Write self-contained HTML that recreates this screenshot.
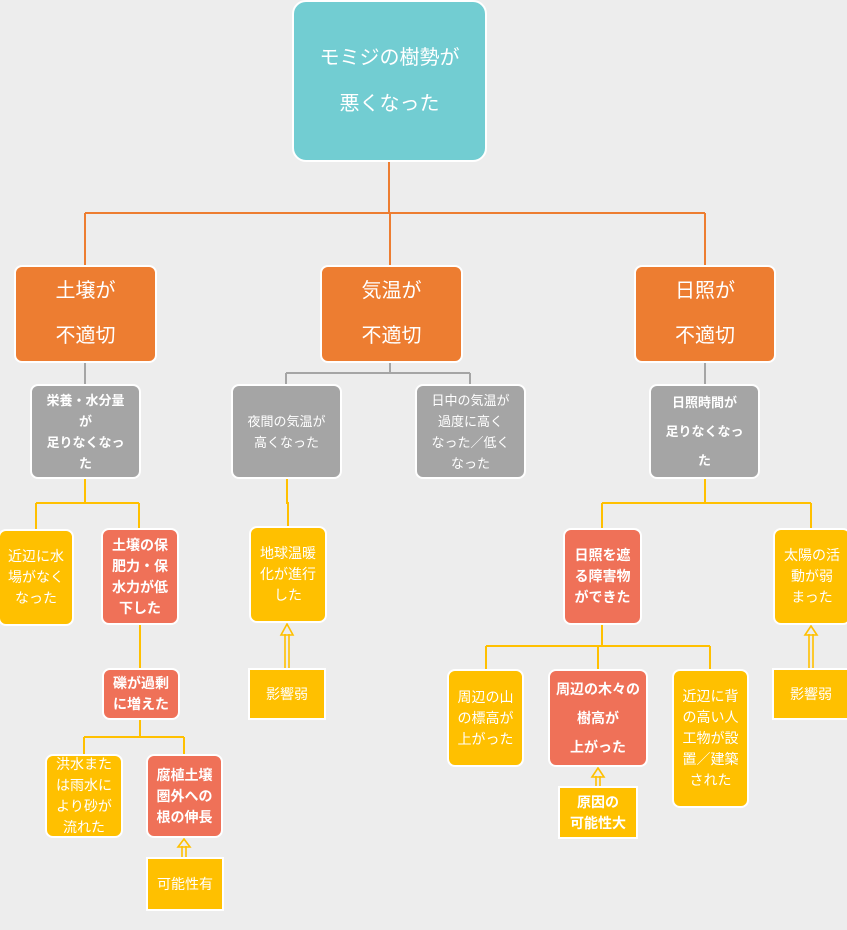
<!DOCTYPE html>
<html><head><meta charset="utf-8"><style>
body{margin:0;width:847px;height:930px;background:#ededed;position:relative;overflow:hidden;font-family:"Liberation Sans","Noto Sans CJK JP",sans-serif;}
.b{position:absolute;box-sizing:border-box;border:2px solid #fff;border-radius:8px;color:#fff;display:flex;align-items:center;justify-content:center;text-align:center;font-size:14px;line-height:21px;}
.t{background:#72cdd2;border-radius:14px;font-size:20px;line-height:46px;}
.o{background:#ed7d31;font-size:20px;line-height:45px;}
.g{background:#a5a5a5;font-size:13px;}
.y{background:#ffc000;}
.r{background:#ef7158;font-weight:bold;}
.s{border-radius:0;}
.bd{font-weight:bold;}
svg{position:absolute;left:0;top:0;}
</style></head><body>
<svg width="847" height="930" fill="none">
<g stroke="#ed7d31" stroke-width="2">
<path d="M389 161V213M85 213H705M85 213V265M390 213V265M705 213V265"/>
</g>
<g stroke="#a5a5a5" stroke-width="2">
<path d="M85 362V385M390 362V373M286 373H470M286 373V385M470 373V385M705 362V385"/>
</g>
<g stroke="#ffc000" stroke-width="2">
<path d="M85 478V503M36 503H139M36 503V529M139 503V529"/>
<path d="M287 478V503H288V527"/>
<path d="M705 478V503M602 503H811M602 503V529M811 503V529"/>
<path d="M140 625V669M140 719V737M84 737H184M84 737V754M184 737V754"/>
<path d="M602 624V646M486 646H710M486 646V669M598 646V669M710 646V669"/>
</g>
<g stroke="#ffc000" stroke-width="1.6">
<path d="M182 857V846M186 857V846M178 847L184 839L190 847Z"/>
<path d="M285 668V634M289 668V634M281 635L287 624L293 635Z"/>
<path d="M596 786V776M600 786V776M592 777L598 768L604 777Z"/>
<path d="M809 668V634M813 668V634M805 635L811 626L817 635Z"/>
</g>
</svg>
<div class="b t" style="left:292px;top:0;width:195px;height:162px">モミジの樹勢が<br>悪くなった</div>
<div class="b o" style="left:14px;top:265px;width:143px;height:98px">土壌が<br>不適切</div>
<div class="b o" style="left:320px;top:265px;width:143px;height:98px">気温が<br>不適切</div>
<div class="b o" style="left:634px;top:265px;width:142px;height:98px">日照が<br>不適切</div>
<div class="b g bd" style="left:30px;top:384px;width:111px;height:95px;line-height:21px">栄養・水分量<br>が<br>足りなくなっ<br>た</div>
<div class="b g" style="left:231px;top:384px;width:111px;height:95px">夜間の気温が<br>高くなった</div>
<div class="b g" style="left:415px;top:384px;width:111px;height:95px">日中の気温が<br>過度に高く<br>なった／低く<br>なった</div>
<div class="b g bd" style="left:649px;top:384px;width:111px;height:95px;line-height:29px">日照時間が<br>足りなくなっ<br>た</div>
<div class="b y" style="left:-2px;top:529px;width:76px;height:97px">近辺に水<br>場がなく<br>なった</div>
<div class="b r" style="left:101px;top:528px;width:78px;height:97px">土壌の保<br>肥力・保<br>水力が低<br>下した</div>
<div class="b y" style="left:249px;top:526px;width:78px;height:97px">地球温暖<br>化が進行<br>した</div>
<div class="b r" style="left:563px;top:528px;width:79px;height:97px">日照を遮<br>る障害物<br>ができた</div>
<div class="b y" style="left:773px;top:528px;width:78px;height:97px">太陽の活<br>動が弱<br>まった</div>
<div class="b r" style="left:102px;top:668px;width:78px;height:52px">礫が過剰<br>に増えた</div>
<div class="b y s" style="left:248px;top:668px;width:78px;height:52px">影響弱</div>
<div class="b y s" style="left:772px;top:668px;width:78px;height:52px">影響弱</div>
<div class="b y" style="left:447px;top:669px;width:77px;height:98px">周辺の山<br>の標高が<br>上がった</div>
<div class="b r" style="left:548px;top:669px;width:100px;height:98px;line-height:29px">周辺の木々の<br>樹高が<br>上がった</div>
<div class="b y" style="left:672px;top:669px;width:77px;height:139px">近辺に背<br>の高い人<br>工物が設<br>置／建築<br>された</div>
<div class="b y s bd" style="left:558px;top:786px;width:80px;height:53px">原因の<br>可能性大</div>
<div class="b y" style="left:45px;top:754px;width:78px;height:84px">洪水また<br>は雨水に<br>より砂が<br>流れた</div>
<div class="b r" style="left:146px;top:754px;width:77px;height:84px">腐植土壌<br>圏外への<br>根の伸長</div>
<div class="b y s" style="left:146px;top:857px;width:78px;height:54px">可能性有</div>
</body></html>
